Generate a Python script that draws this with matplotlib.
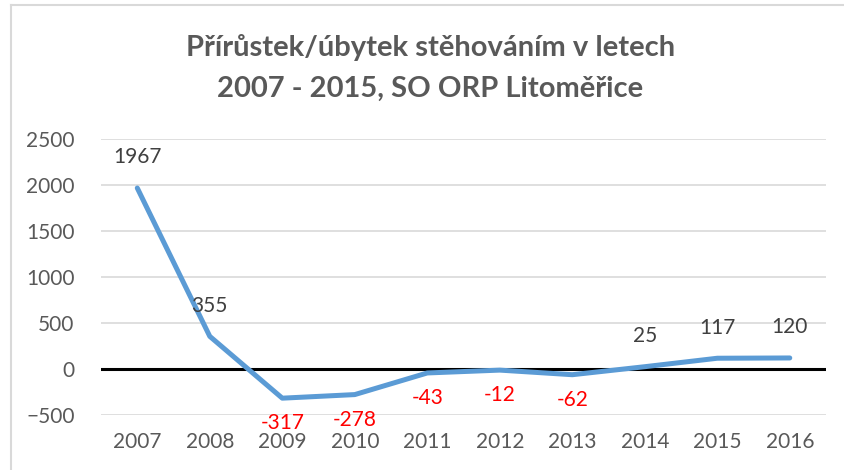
import numpy as np
import matplotlib.pyplot as plt
from matplotlib.lines import Line2D

# DATA
years = ['2007', '2008', '2009', '2010', '2011', '2012', '2013', '2014', '2015', '2016']
values = [1967, 355, -317, -278, -43, -12, -62, 25, 117, 120]
yticks = [-500, 0, 500, 1000, 1500, 2000, 2500]

plt.rcParams['font.family'] = ['Lato', 'DejaVu Sans']
gray_txt = '#595959'

fig = plt.figure(figsize=(8.44, 4.70), dpi=100)
ax = fig.add_axes([0.1197, 0.117, 0.859, 0.5873])

x = np.arange(len(years))
ax.plot(x, values, color='#5B9BD5', linewidth=3.6, solid_capstyle='round', zorder=3)
ax.axhline(0, color='black', linewidth=2.2, zorder=2)

ax.set_xlim(-0.5, len(years) - 0.5)
ax.set_ylim(-500, 2500)
ax.set_yticks(yticks)
ax.set_xticks(x)
ax.set_xticklabels(years)
ax.grid(axis='y', color='#d9d9d9', linewidth=1.2, zorder=1)
ax.set_axisbelow(True)
for s in ax.spines.values():
    s.set_visible(False)
ax.tick_params(length=0, labelsize=15, colors=gray_txt, pad=12)
ax.tick_params(axis='y', pad=19)

# popisky hodnot
for xi, v in zip(x, values):
    if v >= 0:
        ax.annotate(str(v), (xi, v), xytext=(0, 22), textcoords='offset points',
                    ha='center', va='center', fontsize=15, color='#404040', zorder=4)
    else:
        ax.annotate(str(v), (xi, v), xytext=(0, -18), textcoords='offset points',
                    ha='center', va='center', fontsize=15, color='#FF0000', zorder=4)

# titulek
fig.text(0.51, 0.898, 'Přírůstek/úbytek stěhováním v letech', ha='center', va='center',
         fontsize=21, fontweight='bold', color=gray_txt)
fig.text(0.51, 0.812, '2007 - 2015, SO ORP Litoměřice', ha='center', va='center',
         fontsize=21, fontweight='bold', color=gray_txt)

# ramecek grafu
fig.add_artist(Line2D([11/844, 1], [1 - 5/470, 1 - 5/470], color='#d9d9d9', linewidth=1.5,
                      transform=fig.transFigure))
fig.add_artist(Line2D([11/844, 11/844], [0, 1 - 5/470], color='#d9d9d9', linewidth=1.5,
                      transform=fig.transFigure))

fig.savefig('out.png', dpi=100)
